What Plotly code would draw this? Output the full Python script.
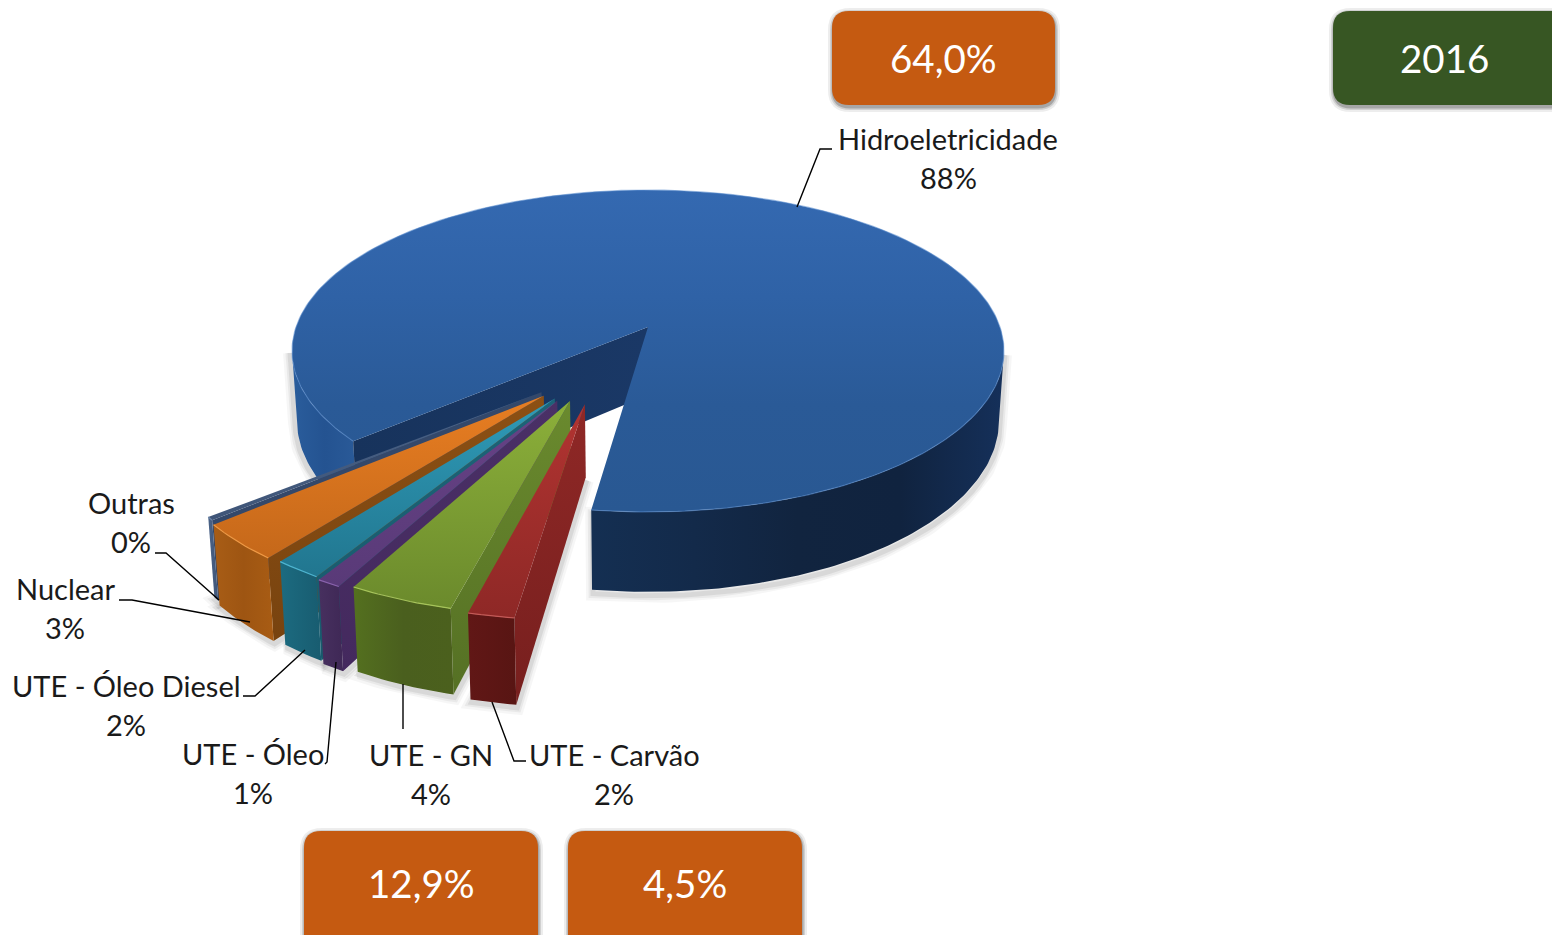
import math
import plotly.graph_objects as go

# ---- data ----
categories = ["Hidroeletricidade", "UTE - Carvão", "UTE - GN", "UTE - Óleo",
              "UTE - Óleo Diesel", "Nuclear", "Outras"]
values = [88.0, 1.7, 3.9, 0.9, 1.8, 3.4, 0.3]
box_labels = ["64,0%", "2016", "12,9%", "4,5%"]

# ---- explosion of each slice on the pie plane (disk radius = 1) ----
pull_x = [0, -0.167, -0.207, -0.241, -0.248, -0.278, -0.285]
pull_y = [0, 0.458, 0.440, 0.438, 0.425, 0.410, 0.390]

# ---- camera ----
CX, CY, RX, RY, K, D, CONV = 648, 327, 352, 157.4, 0.149, 68, 0.014
START = 7.5  # degrees clockwise from the front of the pie
MAIN_TRIM_LEFT, MAIN_TRIM_RIGHT = 1.6, 0.4  # perspective correction of the big slice's two cut edges


def proj(x, y, z=0.0):
    s = 1 / (1 - K * y)
    return CX + RX * x * s * (1 - CONV * z), CY + RY * y * s + D * z * s


def on_rim(a, px=0.0, py=0.0):
    r = math.radians(a)
    return px - math.sin(r), py + math.cos(r)


def arc(a0, a1, px, py, z=0.0):
    n = max(2, int(abs(a1 - a0)) + 2)
    pts = [proj(*on_rim(a0 + (a1 - a0) * i / (n - 1), px, py), z) for i in range(n)]
    return [p[0] for p in pts], [p[1] for p in pts]


fig = go.Figure()


def poly(xs, ys, kind, colors):
    g = dict(type=kind, colorscale=[[i / (len(colors) - 1), c] for i, c in enumerate(colors)])
    if kind == "vertical":
        g["start"], g["stop"] = min(ys), max(ys)
    else:
        g["start"], g["stop"] = min(xs), max(xs)
    fig.add_trace(go.Scatter(x=list(xs) + [xs[0]], y=list(ys) + [ys[0]], mode="lines",
                             line=dict(width=0), fill="toself", fillgradient=g,
                             hoverinfo="skip", showlegend=False))


def stroke(xs, ys, color, width):
    fig.add_trace(go.Scatter(x=list(xs), y=list(ys), mode="lines",
                             line=dict(color=color, width=width),
                             hoverinfo="skip", showlegend=False))


def blur(xs, ys, dx=1, dy=3):
    xs2 = [v + dx for v in xs] + [xs[0] + dx]
    ys2 = [v + dy for v in ys] + [ys[0] + dy]
    for w, op in ((14, 0.035), (9, 0.05), (5, 0.07)):
        stroke(xs2, ys2, f"rgba(0,0,0,{op})", w)


# angular spans from the values
total = sum(values)
spans = [v / total * 360 for v in values]
edges = [START]
for sp in spans[1:]:
    edges.append(edges[-1] + sp)

# --- main slice ---
m0 = edges[-1] - MAIN_TRIM_LEFT
m1 = START + 360 + MAIN_TRIM_RIGHT
WIDEST = math.degrees(math.acos(K))
apex_t = proj(0, 0)
apex_b = proj(0, 0, 1)

# left side
tx, ty = arc(m0, WIDEST, 0, 0)
bx, by = arc(m0, WIDEST, 0, 0, 1)
blur(tx + bx[::-1], ty + by[::-1], -2, 2)
poly(tx + bx[::-1], ty + by[::-1], "horizontal", ["#2a5d9c", "#245391", "#2a5a98"])
# wall of the gap
e_t = proj(*on_rim(m0))
e_b = proj(*on_rim(m0), 1)
poly([apex_t[0], e_t[0], e_b[0], apex_b[0]], [apex_t[1], e_t[1], e_b[1], apex_b[1]],
     "horizontal", ["#17335c", "#1a3866"])
# right side
tx, ty = arc(360 - WIDEST, m1, 0, 0)
bx, by = arc(360 - WIDEST, m1, 0, 0, 1)
blur(tx + bx[::-1], ty + by[::-1], 1, 4)
poly(tx + bx[::-1], ty + by[::-1], "horizontal",
     ["#142f52", "#132a4a", "#11243f", "#10233f", "#15305a"])
# top face
ax, ay = arc(m0, m1, 0, 0)
poly([apex_t[0]] + ax, [apex_t[1]] + ay, "vertical", ["#3469b1", "#2f62a6", "#2a5a97", "#295892"])
stroke(ax, ay, "rgba(90,140,205,0.55)", 1.2)

# --- exploded slices, back to front ---
styles = {
    6: dict(top=["#4a6286", "#3f5578"], wall=["#34486a", "#34486a"], side=["#4a6286", "#3f5578"], hi="#6b84a8"),
    5: dict(top=["#e87e22", "#c5681a"], wall=["#8c5014", "#78430f"], side=["#a85d16", "#9e5512", "#a85c14"], hi="#f09a45"),
    4: dict(top=["#2f9bb8", "#21768f"], wall=["#1c6478", "#185a6c"], side=["#1c6b80", "#185c70"], hi="#4db4d0"),
    3: dict(top=["#674286", "#593a78"], wall=["#4a3066", "#44295e"], side=["#47305f", "#3f2856"], hi="#8a62ad"),
    2: dict(top=["#8cb03a", "#6b8a2c"], wall=["#6a8a2e", "#557024"], side=["#54701f", "#4a5f1e", "#4b601d"], hi="#a6c45a"),
    1: dict(top=["#b23431", "#8e2826"], wall=["#8f2826", "#771f1e"], side=["#611716", "#581513"], hi="#c45a58"),
}
for i in range(6, 0, -1):
    st = styles[i]
    a0, a1 = edges[i - 1], edges[i]
    px, py = pull_x[i], pull_y[i]
    ap_t = proj(px, py)
    ap_b = proj(px, py, 1)
    rt = proj(*on_rim(a0, px, py))
    rb = proj(*on_rim(a0, px, py), 1)
    tx, ty = arc(a0, a1, px, py)
    bx, by = arc(a0, a1, px, py, 1)
    blur([ap_b[0]] + bx + [ap_b[0]], [ap_b[1]] + by + [ap_b[1]], 1, 3)
    poly([ap_t[0], rt[0], rb[0], ap_b[0]], [ap_t[1], rt[1], rb[1], ap_b[1]], "vertical", st["wall"])
    poly(tx + bx[::-1], ty + by[::-1], "horizontal", st["side"])
    poly([ap_t[0]] + tx, [ap_t[1]] + ty, "vertical", st["top"])
    stroke(tx, ty, st["hi"], 1.2)

# --- labels ---
label_pos = {
    "Hidroeletricidade": (948, 138, 177),
    "UTE - Carvão": (614, 754, 793),
    "UTE - GN": (431, 754, 793),
    "UTE - Óleo": (253, 753, 792),
    "UTE - Óleo Diesel": (126, 685, 724),
    "Nuclear": (65, 588, 627),
    "Outras": (131, 502, 541),
}
for name, val in zip(categories, values):
    x, y1, y2 = label_pos[name]
    for txt, y in ((name, y1), (f"{round(val)}%", y2)):
        fig.add_annotation(x=x, y=y, text=txt, showarrow=False, xanchor="center", yanchor="middle",
                           font=dict(family="Lato", size=29, color="#1a1a1a"))

# --- leader lines ---
leaders = [
    [(832, 149), (820, 149), (797, 207)],
    [(155, 553), (166, 553), (219, 600)],
    [(119, 600), (132, 600), (250, 622)],
    [(243, 696), (255, 696), (305, 650)],
    [(325, 764), (327, 762), (336, 662)],
    [(403, 684), (403, 729)],
    [(526, 761), (514, 761), (492, 702)],
]
for seg in leaders:
    stroke([p[0] for p in seg], [p[1] for p in seg], "#000000", 1.4)


# --- boxes ---
def rrect(x0, y0, x1, y1, r=17):
    return (f"M{x0 + r},{y0} L{x1 - r},{y0} Q{x1},{y0} {x1},{y0 + r} L{x1},{y1 - r} Q{x1},{y1} {x1 - r},{y1} "
            f"L{x0 + r},{y1} Q{x0},{y1} {x0},{y1 - r} L{x0},{y0 + r} Q{x0},{y0} {x0 + r},{y0} Z")


boxes = [(832, 11, 1055, 105, "#C55A11"), (1333, 11, 1585, 105, "#375623"),
         (304, 831, 538, 970, "#C55A11"), (568, 831, 802, 970, "#C55A11")]
shapes = []
for x0, y0, x1, y1, c in boxes:
    for g, op in ((5, 0.07), (3, 0.12), (1.5, 0.2)):
        shapes.append(dict(type="path", path=rrect(x0 - g + 1, y0 - g + 2, x1 + g, y1 + g + 2, 17 + g),
                           fillcolor=f"rgba(0,0,0,{op})", line=dict(width=0), layer="below"))
    shapes.append(dict(type="path", path=rrect(x0, y0, x1, y1), fillcolor=c, line=dict(width=0), layer="below"))

for txt, (cx, cy) in zip(box_labels, [(943.5, 58), (1444, 58), (421, 883), (685, 883)]):
    fig.add_annotation(x=cx, y=cy, text=txt, showarrow=False, xanchor="center", yanchor="middle",
                       font=dict(family="Lato", size=38.5, color="#ffffff"))

fig.update_layout(
    width=1552, height=935, margin=dict(l=0, r=0, t=0, b=0),
    paper_bgcolor="#ffffff", plot_bgcolor="#ffffff", showlegend=False, shapes=shapes,
    xaxis=dict(range=[0, 1552], visible=False, fixedrange=True),
    yaxis=dict(range=[935, 0], visible=False, fixedrange=True),
)
fig.write_html("out.html", config=dict(displayModeBar=False),
               post_script="document.body.style.margin='0';")
